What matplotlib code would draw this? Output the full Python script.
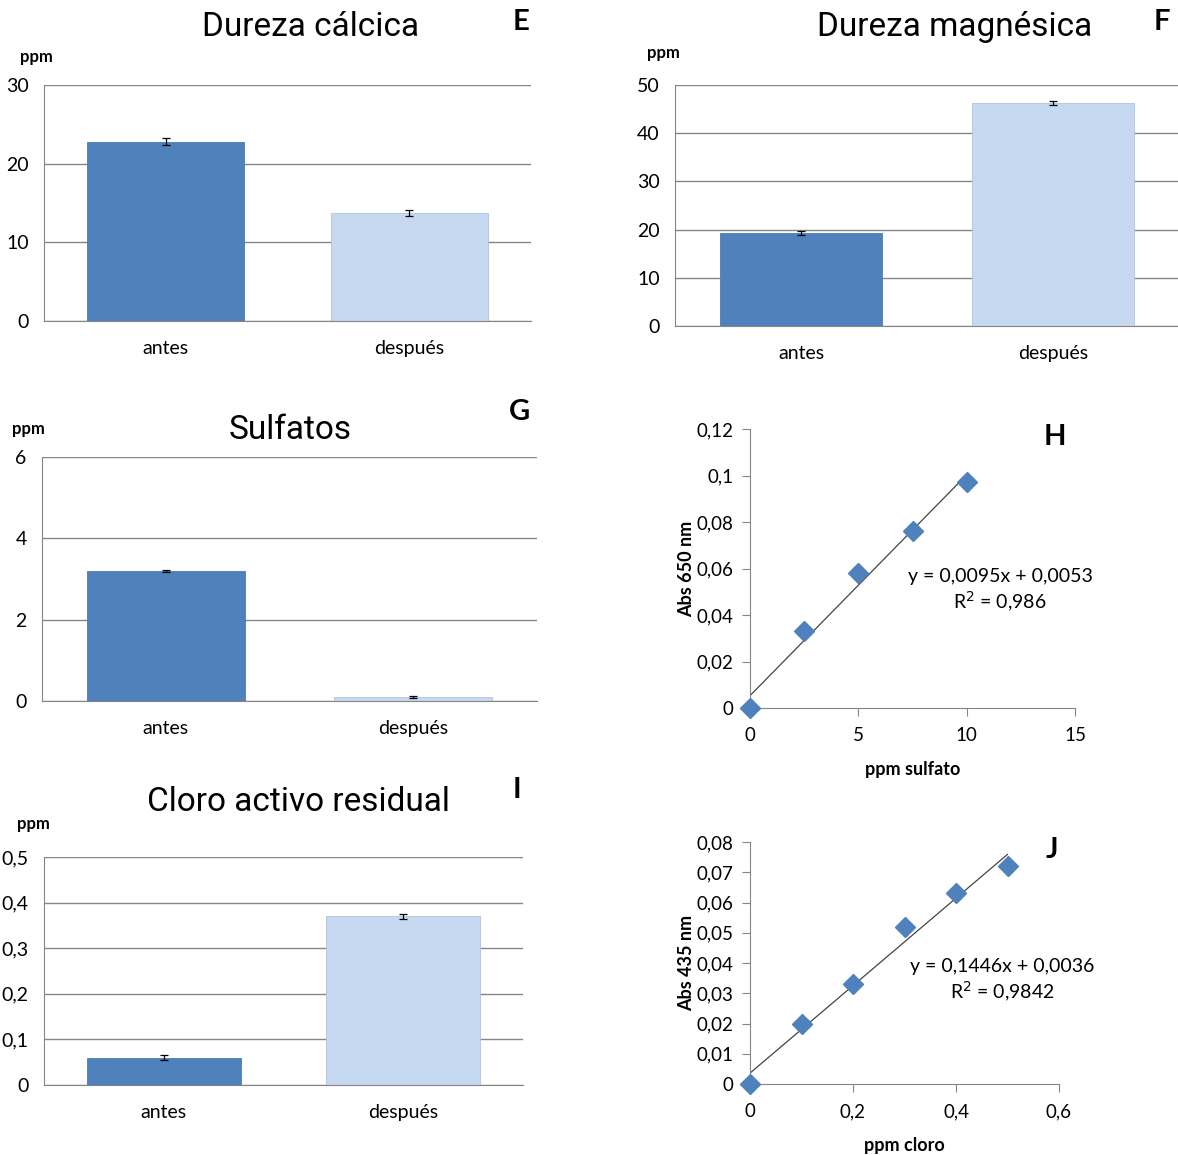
import numpy as np
import matplotlib
matplotlib.use('Agg')
import matplotlib.pyplot as plt

plt.rcParams['font.family'] = ['Lato', 'DejaVu Sans']

# --- data ---
categorias = ['antes', 'después']

calcica = [22.8, 13.7]
calcica_err = [0.45, 0.4]

magnesica = [19.3, 46.3]
magnesica_err = [0.4, 0.35]

sulfatos = [3.2, 0.1]
sulfatos_err = [0.02, 0.02]

cloro = [0.06, 0.37]
cloro_err = [0.005, 0.005]

sulfato_x = [0, 2.5, 5, 7.5, 10]
sulfato_abs = [0.0, 0.033, 0.058, 0.076, 0.097]
sulfato_fit = (0.0095, 0.0053)
sulfato_r2 = '0,986'

cloro_x = [0, 0.1, 0.2, 0.3, 0.4, 0.5]
cloro_abs = [0.0, 0.020, 0.033, 0.052, 0.063, 0.072]
cloro_fit = (0.1446, 0.0036)
cloro_r2 = '0,9842'

W, H = 1178, 1155
fig = plt.figure(figsize=(W / 100, H / 100), dpi=100)

OSCURO = '#4F81BD'
CLARO = '#C6D9F1'
GRIS = '#868686'
TITULO = ['Roboto', 'DejaVu Sans']


def ejes(x0, x1, y0, y1):
    # pixel box -> figure fraction
    return fig.add_axes([x0 / W, 1 - y1 / H, (x1 - x0) / W, (y1 - y0) / H])


def coma(v):
    return ('%g' % v).replace('.', ',')


def barras(box, vals, errs, ymax, paso, titulo, letra, tpos, lpos, ppos, ancho):
    ax = ejes(*box)
    x = np.arange(len(categorias))
    ax.bar(x, vals, width=ancho, color=[OSCURO, CLARO], zorder=2,
           edgecolor=['#4A7AB5', '#AFC3DC'], linewidth=0.6)
    ax.errorbar(x, vals, yerr=errs, fmt='none', ecolor='black',
                elinewidth=0.9, capsize=3, capthick=0.9, zorder=3)
    ax.set_xlim(-0.5, 1.5)
    ax.set_ylim(0, ymax)
    ticks = np.arange(0, ymax + paso / 2, paso)
    ax.set_yticks(ticks)
    ax.set_yticklabels([coma(round(t, 2)) for t in ticks], fontsize=14)
    ax.set_xticks(x)
    ax.set_xticklabels(categorias, fontsize=14)
    ax.tick_params(length=0, pad=14)
    ax.tick_params(axis='y', pad=11)
    ax.yaxis.grid(True, color=GRIS, linewidth=1.0, zorder=0)
    ax.set_axisbelow(True)
    for s in ['top', 'right']:
        ax.spines[s].set_visible(False)
    for s in ['left', 'bottom']:
        ax.spines[s].set_color(GRIS)
    fig.text(tpos[0] / W, 1 - tpos[1] / H, titulo, fontsize=24,
             family=TITULO, ha='center', va='center')
    fig.text(lpos[0] / W, 1 - lpos[1] / H, letra, fontsize=21,
             fontweight='bold', ha='center', va='center')
    fig.text(ppos[0] / W, 1 - ppos[1] / H, 'ppm', fontsize=12,
             fontweight='bold', ha='center', va='center')
    return ax


def curva(box, xs, ys, fit, r2, xmax, xpaso, ymax, ypaso, xlab, ylab,
          letra, lpos, eq_pos, ylab_x):
    ax = ejes(*box)
    m, b = fit
    xf = np.array([0, max(xs)])
    ax.plot(xf, m * xf + b, color='#444444', linewidth=0.9, zorder=2)
    ax.plot(xs, ys, linestyle='none', marker='D', markersize=10,
            color=OSCURO, zorder=3, clip_on=False)
    ax.set_xlim(0, xmax)
    ax.set_ylim(0, ymax)
    xt = np.arange(0, xmax + xpaso / 2, xpaso)
    yt = np.arange(0, ymax + ypaso / 2, ypaso)
    ax.set_xticks(xt)
    ax.set_xticklabels([coma(round(t, 3)) for t in xt], fontsize=13.5)
    ax.set_yticks(yt)
    ax.set_yticklabels([coma(round(t, 3)) for t in yt], fontsize=13.5)
    ax.tick_params(direction='out', length=6, color=GRIS, pad=6)
    ax.tick_params(axis='x', pad=8)
    for s in ['top', 'right']:
        ax.spines[s].set_visible(False)
    for s in ['left', 'bottom']:
        ax.spines[s].set_color(GRIS)
    ax.set_xlabel(xlab, fontsize=13, fontweight='bold', labelpad=12)
    fig.text(ylab_x / W, 1 - (box[2] + box[3]) / 2 / H, ylab, fontsize=13,
             fontweight='bold', rotation=90, ha='center', va='center')
    fig.text(lpos[0] / W, 1 - lpos[1] / H, letra, fontsize=21,
             fontweight='bold', ha='center', va='center')
    eq = 'y = %sx + %s\nR$^2$ = %s' % (coma(m), coma(b), r2)
    fig.text(eq_pos[0] / W, 1 - eq_pos[1] / H, eq, fontsize=14,
             ha='center', va='center', linespacing=1.3)
    return ax


barras((44, 531, 85, 321), calcica, calcica_err, 30, 10, 'Dureza cálcica',
       'E', (311, 27), (521, 22), (36, 57), 0.645)
barras((675, 1179, 85, 326), magnesica, magnesica_err, 50, 10,
       'Dureza magnésica', 'F', (955, 27), (1162, 22), (663, 53), 0.64)
barras((42, 537, 457, 701), sulfatos, sulfatos_err, 6, 2, 'Sulfatos',
       'G', (290, 430), (519, 412), (28, 429), 0.64)
barras((44, 523, 857, 1085), cloro, cloro_err, 0.5, 0.1,
       'Cloro activo residual', 'I', (298, 802), (517, 790), (33, 824), 0.645)

curva((750, 1075, 429, 708), sulfato_x, sulfato_abs, sulfato_fit, sulfato_r2,
      15, 5, 0.12, 0.02, 'ppm sulfato', 'Abs 650 nm', 'H', (1055, 437),
      (1000, 591), 687)
curva((750, 1059, 842, 1084), cloro_x, cloro_abs, cloro_fit, cloro_r2,
      0.6, 0.2, 0.08, 0.01, 'ppm cloro', 'Abs 435 nm', 'J', (1052, 850),
      (1002, 981), 687)

fig.savefig('out.png', dpi=100)
